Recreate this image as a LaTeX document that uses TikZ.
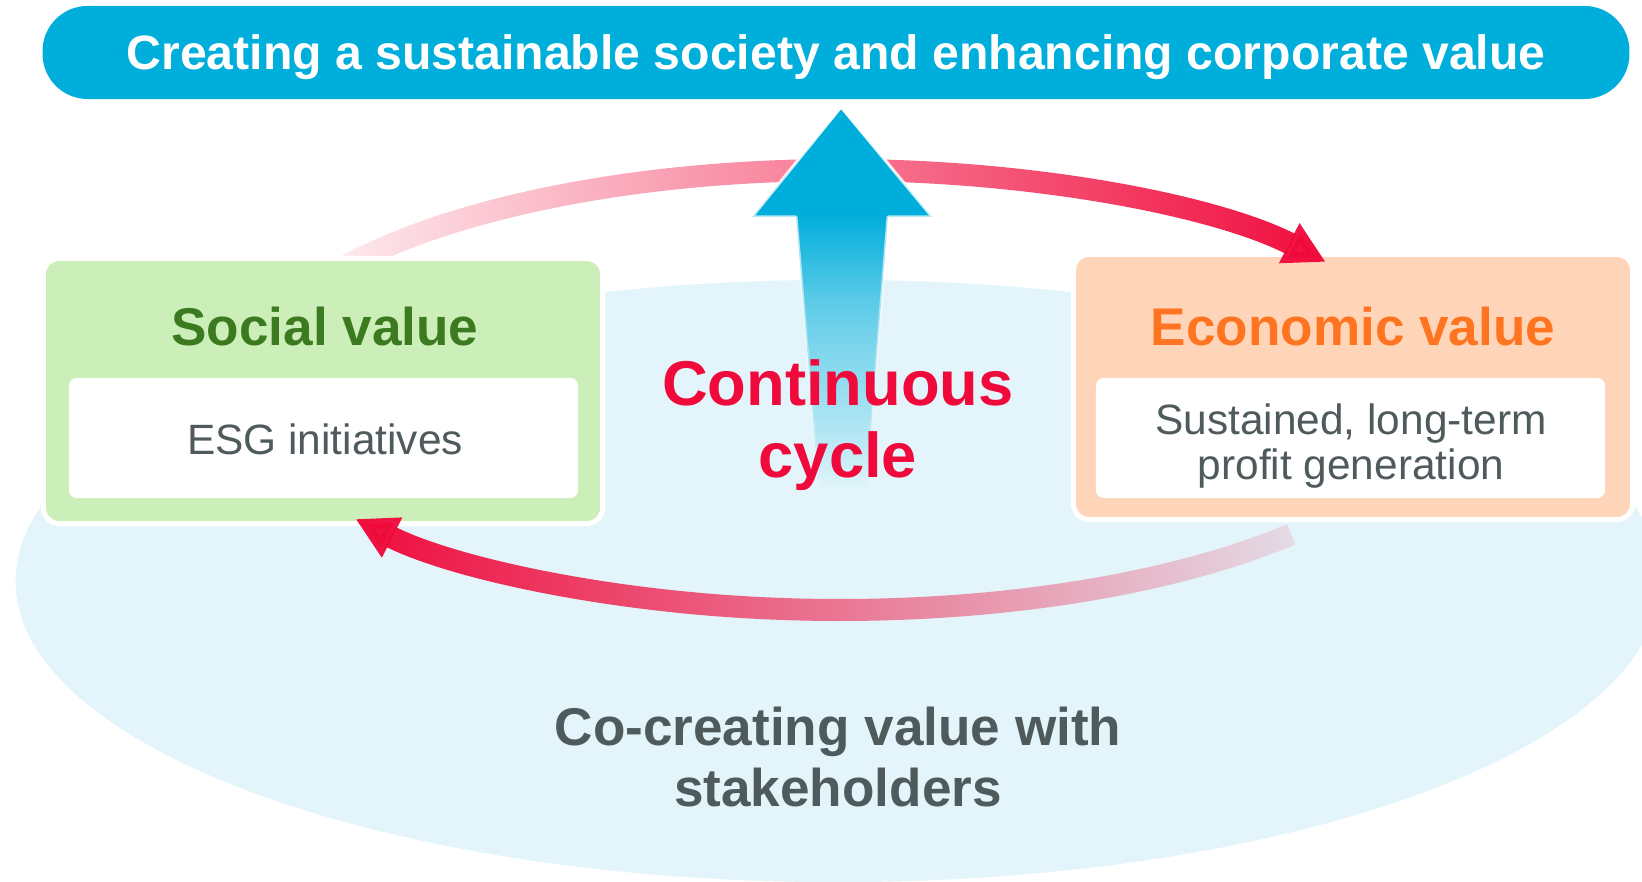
\documentclass[tikz,border=0pt]{standalone}
\usepackage{fontspec}
\setmainfont{Liberation Sans}
\usepackage{xcolor}
\usetikzlibrary{arrows.meta,positioning,shapes.geometric,fadings}
\definecolor{bannerblue}{HTML}{00AEDB}
\definecolor{skyfill}{HTML}{E3F5FA}
\definecolor{socialfill}{HTML}{CCEEB8}
\definecolor{socialtext}{HTML}{3B7A1E}
\definecolor{econfill}{HTML}{FFD5BA}
\definecolor{econtext}{HTML}{FF7421}
\definecolor{cyclered}{HTML}{F00A3C}
\definecolor{inktext}{HTML}{4F5A5C}
\colorlet{shaftA}{bannerblue!29!white}
\colorlet{shaftB}{bannerblue!56!white}
\colorlet{shaftC}{bannerblue!65!white}
\pgfdeclareverticalshading{upfade}{100bp}{color(0bp)=(skyfill); color(25bp)=(skyfill);
  color(32bp)=(shaftA); color(46bp)=(shaftB); color(50bp)=(shaftC);
  color(61bp)=(bannerblue); color(100bp)=(bannerblue)}
\tikzfading[name=fadeleft, left color=transparent!92, right color=transparent!0]
\tikzfading[name=faderight, left color=transparent!0, right color=transparent!90]
\tikzfading[name=fadedown, top color=transparent!0, middle color=transparent!0, bottom color=transparent!100]

\begin{document}
\begin{tikzpicture}[x=0.01cm, y=0.01cm,
    valuebox/.style={draw=white, line width=0.05cm, rounded corners=0.16cm, minimum width=5.59cm, minimum height=2.65cm},
    textpanel/.style={fill=white, rounded corners=0.08cm, minimum width=5.09cm, minimum height=1.2cm},
    cyclearc/.style={cyclered, line width=0.22cm, -{Triangle[length=0.41cm, width=0.42cm]}},
    title/.style={anchor=base, font=\bfseries\fontsize{15.1pt}{18pt}\selectfont},
    body/.style={anchor=base, text=inktext, align=center, font=\fontsize{12.06pt}{12.8pt}\selectfont}
]
\useasboundingbox (0,0) rectangle (1642,882);
\node[ellipse, fill=skyfill, minimum width=16.44cm, minimum height=6.02cm, inner sep=0pt] (sky) at (838,301) {};

\node[fill=bannerblue, text=white, rounded corners=0.45cm, minimum width=15.86cm, minimum height=0.93cm,
      text height=0.35cm, text depth=0pt, font=\bfseries\fontsize{13.7pt}{16pt}\selectfont] (goal) at (836,829.5)
      {Creating a sustainable society and enhancing corporate value};

% the two value boxes and the cycle between them
\coordinate (hub) at (840,492);
\node[valuebox, fill=econfill] (economic) at (1353,495) {};
\draw[cyclearc, path fading=fadeleft] ([shift={(146:598 and 220)}]hub) arc[start angle=146, end angle=35.6, x radius=598, y radius=220];
\node[valuebox, fill=socialfill] (social) at (323,491) {};
\draw[cyclearc, path fading=faderight] ([shift={(319:598 and 220)}]hub) arc[start angle=319, end angle=215.9, x radius=598, y radius=220];

\node[textpanel] (socialpanel) at (323.5,444) {};
\node[textpanel] (econpanel) at (1350.5,444) {};
\node[title, text=socialtext] (socialtitle) at (325,536) {Social value};
\node[title, text=econtext] (econtitle) at (1353,536) {Economic value};
\node[body] (socialbody) at (325,427) {ESG initiatives};
\node[body] (econbody) at (1351,402) {Sustained, long-term\\profit generation};

% rising arrow
\shade[shading=upfade] (841,775) -- (932,665) -- (888,665) -- (866,392) -- (819,392) -- (796,665) -- (752,665) -- cycle;
\draw[white, line width=0.03cm, line join=round, path fading=fadedown] (819,392) -- (796,665) -- (752,665) -- (841,775) -- (932,665) -- (888,665) -- (866,392);

\node[anchor=base, text=cyclered, align=center, font=\bfseries\fontsize{18pt}{20.5pt}\selectfont] (cycle) at (838,404) {Continuous\\cycle};
\node[anchor=base, text=inktext, align=center, font=\bfseries\fontsize{15.1pt}{17.6pt}\selectfont] (cocreate) at (838,75) {Co-creating value with\\stakeholders};
\end{tikzpicture}
\end{document}
